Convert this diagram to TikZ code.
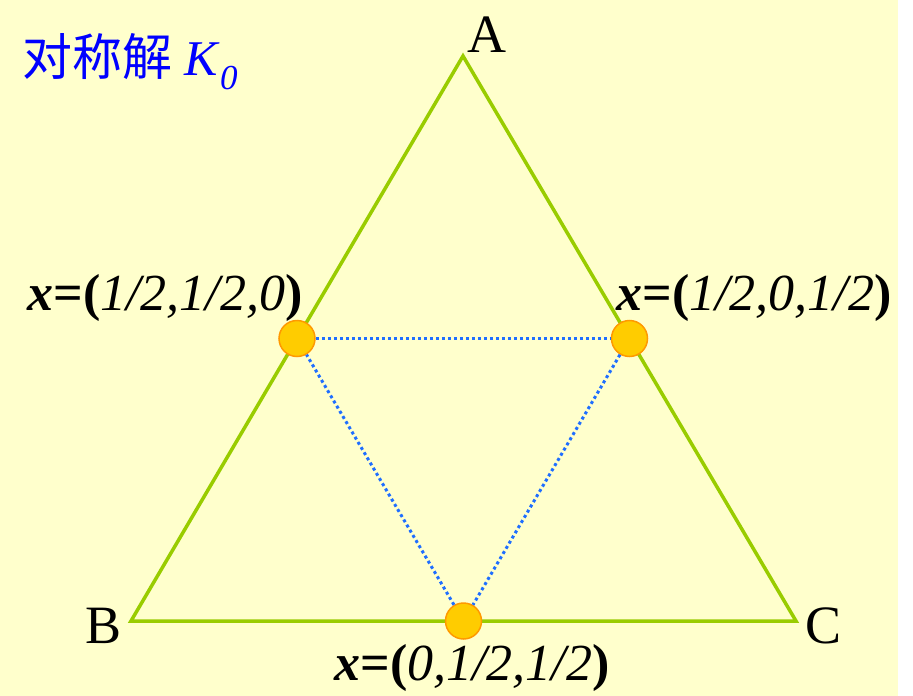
\documentclass[tikz,border=0pt]{standalone}
\usepackage{fontspec}
\setmainfont{Liberation Serif}
\newfontfamily\cjk{Noto Sans CJK SC}
\usepackage{xcolor}
\usetikzlibrary{calc}
\definecolor{paper}{HTML}{FFFFCC}
\definecolor{edgegreen}{HTML}{99CC00}
\definecolor{dotblue}{RGB}{30,110,255}
\definecolor{dotfill}{HTML}{FFCC00}
\definecolor{dotrim}{HTML}{FF9900}
\newcommand{\pt}[1]{\textbf{\textit{x}}\textbf{=(}\textit{#1}\textbf{)}}

\begin{document}
\begin{tikzpicture}[x=1pt, y=-1pt,
    edge/.style={draw=edgegreen, line width=3.5pt},
    dotline/.style={draw=dotblue, line width=3pt, dash pattern=on 3pt off 3pt},
    spot/.style={circle, draw=dotrim, fill=dotfill, line width=1.5pt, minimum size=36pt, inner sep=0pt},
    vlabel/.style={font=\fontsize{54}{54}\selectfont, anchor=base, inner sep=0pt},
    plabel/.style={font=\fontsize{52}{52}\selectfont, anchor=base, inner sep=0pt}]
				\useasboundingbox (0,0) rectangle (913,696);
				\fill[paper] (0,0) rectangle (898,696);
				\coordinate (A) at (463,56);
				\coordinate (B) at (131,621);
				\coordinate (C) at (796,621);
				\draw[edge] (A) -- (B) -- (C) -- cycle;
				\node[spot] (ab) at ($(A)!0.5!(B)$) {};
				\node[spot] (ac) at ($(A)!0.5!(C)$) {};
				\node[spot] (bc) at ($(B)!0.5!(C)$) {};
				\draw[dotline] (ab) -- (ac);
				\draw[dotline] (ac) -- (bc);
				\draw[dotline] (bc) -- (ab);
				
				\node[vlabel] (la) at (487,52) {A};
				\node[vlabel] (lb) at (104,643) {B};
				\node[vlabel] (lc) at (823,643) {C};
				\node[plabel] (pab) at (165,310) {\pt{1/2,1/2,0}};
				\node[plabel] (pac) at (754,310) {\pt{1/2,0,1/2}};
				\node[plabel] (pbc) at (472,680) {\pt{0,1/2,1/2}};
				\node[font=\fontsize{50}{50}\selectfont, text=blue, anchor=base west, inner sep=0pt] (title) at (22,75) {{\cjk 对称解} \textit{K}\textsubscript{\textit{0}}};
			\end{tikzpicture}
\end{document}
